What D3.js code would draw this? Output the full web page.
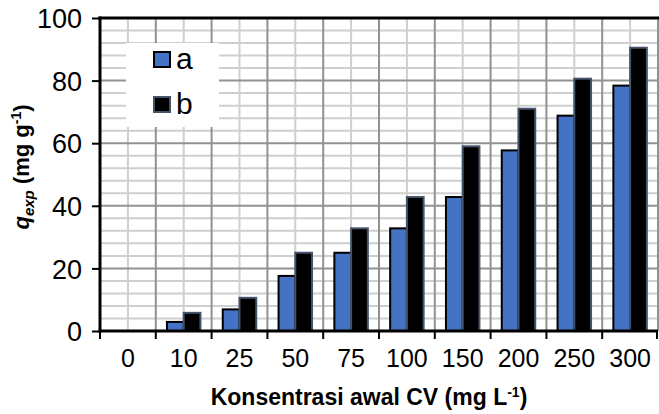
<!DOCTYPE html>
<html>
<head>
<meta charset="utf-8">
<script src="https://cdn.jsdelivr.net/npm/d3@7"></script>
<style>
  body { margin: 0; background: #fff; }
  text { font-family: "Liberation Sans", Arial, sans-serif; fill: #000; }
</style>
</head>
<body>
<script>
var width = 659,
    height = 414;

var categories = ["0", "10", "25", "50", "75", "100", "150", "200", "250", "300"];
var seriesA = [0, 2.9, 6.9, 17.6, 25, 32.8, 42.8, 57.7, 68.8, 78.4];
var seriesB = [0, 5.8, 10.6, 25, 32.8, 42.8, 59, 71, 80.6, 90.5];
var yTicks = [0, 20, 40, 60, 80, 100];
var seriesNames = ["a", "b"];

var margin = {left: 100, right: 1, top: 18, bottom: 83};

var svg = d3.select("body").append("svg")
    .attr("width", width)
    .attr("height", height);

var x0 = d3.scaleBand()
    .domain(categories)
    .range([margin.left, width - margin.right])
    .paddingInner(0)
    .paddingOuter(0);

var x1 = d3.scaleBand()
    .domain(seriesNames)
    .range([x0.bandwidth() * 0.2, x0.bandwidth() * 0.8]);

var y = d3.scaleLinear()
    .domain([0, 100])
    .range([height - margin.bottom, margin.top]);

// horizontal grid, minor every 4
var grid = svg.append("g");
d3.range(4, 100, 4).forEach(function(v) {
  if (v % 20 === 0) return;
  grid.append("line")
    .attr("x1", margin.left).attr("x2", width - margin.right)
    .attr("y1", y(v)).attr("y2", y(v))
    .attr("stroke", "#cfcfcf").attr("stroke-width", 2);
});
// vertical minor lines at category centres
categories.forEach(function(c) {
  grid.append("line")
    .attr("x1", x0(c) + x0.bandwidth() / 2).attr("x2", x0(c) + x0.bandwidth() / 2)
    .attr("y1", y(100)).attr("y2", y(0))
    .attr("stroke", "#cfcfcf").attr("stroke-width", 2);
});
// major horizontal
yTicks.forEach(function(v) {
  if (v === 0 || v === 100) return;
  grid.append("line")
    .attr("x1", margin.left).attr("x2", width - margin.right)
    .attr("y1", y(v)).attr("y2", y(v))
    .attr("stroke", "#929292").attr("stroke-width", 2);
});
// major vertical at category boundaries
categories.forEach(function(c, i) {
  if (i === 0) return;
  grid.append("line")
    .attr("x1", x0(c)).attr("x2", x0(c))
    .attr("y1", y(100)).attr("y2", y(0))
    .attr("stroke", "#929292").attr("stroke-width", 2);
});
grid.append("line")
  .attr("x1", width - margin.right).attr("x2", width - margin.right)
  .attr("y1", y(100)).attr("y2", y(0))
  .attr("stroke", "#929292").attr("stroke-width", 2);

// bars
var groups = svg.append("g").selectAll("g")
    .data(categories)
  .enter().append("g")
    .attr("transform", function(d) { return "translate(" + x0(d) + ",0)"; });

groups.each(function(c, i) {
  var g = d3.select(this);
  if (seriesA[i] > 0) {
    g.append("rect")
      .attr("x", x1("a"))
      .attr("y", y(seriesA[i]))
      .attr("width", x1.bandwidth())
      .attr("height", y(0) - y(seriesA[i]))
      .attr("fill", "#4472c4")
      .attr("stroke", "#000")
      .attr("stroke-width", 2);
  }
  if (seriesB[i] > 0) {
    g.append("rect")
      .attr("x", x1("b"))
      .attr("y", y(seriesB[i]))
      .attr("width", x1.bandwidth())
      .attr("height", y(0) - y(seriesB[i]))
      .attr("fill", "#000")
      .attr("stroke", "#44546a")
      .attr("stroke-width", 2);
  }
});

// frame: top and axes
svg.append("line")
  .attr("x1", margin.left - 1.5).attr("x2", width)
  .attr("y1", y(100)).attr("y2", y(100))
  .attr("stroke", "#000").attr("stroke-width", 3);

var yAxis = svg.append("g")
  .attr("transform", "translate(" + margin.left + ",0)")
  .call(d3.axisLeft(y).tickValues(yTicks).tickSize(8).tickPadding(10));
yAxis.select(".domain").attr("stroke-width", 3).attr("d", "M0," + (y(100) - 1.5) + "V" + (y(0) + 1.5));
yAxis.selectAll(".tick line").attr("stroke-width", 2);
yAxis.selectAll(".tick text")
  .style("font-size", "27px")
  .attr("dy", "0.36em");

var xAxis = svg.append("g")
  .attr("transform", "translate(0," + y(0) + ")")
  .call(d3.axisBottom(x0).tickSize(0).tickPadding(18));
xAxis.select(".domain").attr("stroke-width", 3).attr("d", "M" + (margin.left - 1.5) + ",0H" + (width - margin.right));
xAxis.selectAll(".tick text").style("font-size", "25px");
// tick marks at category boundaries
categories.concat([null]).forEach(function(c) {
  var xp = c === null ? width - margin.right - 1 : x0(c);
  xAxis.append("line")
    .attr("x1", xp).attr("x2", xp)
    .attr("y1", 0).attr("y2", 8)
    .attr("stroke", "#000").attr("stroke-width", 2);
});

// axis titles
svg.append("text")
  .attr("x", 369)
  .attr("y", 405)
  .attr("text-anchor", "middle")
  .style("font-size", "23px")
  .style("font-weight", "bold")
  .html('Konsentrasi awal CV (mg L<tspan dy="-8" style="font-size:14px">-1</tspan><tspan dy="8">)</tspan>');

svg.append("text")
  .attr("transform", "translate(29,167) rotate(-90)")
  .attr("text-anchor", "middle")
  .style("font-size", "22px")
  .style("font-weight", "bold")
  .html('<tspan font-style="italic">q</tspan><tspan font-style="italic" dy="5" style="font-size:15px">exp</tspan><tspan dy="-5"> (mg g</tspan><tspan dy="-8" style="font-size:14px">-1</tspan><tspan dy="8">)</tspan>');

// legend
var legend = svg.append("g");
legend.append("rect")
  .attr("x", 126).attr("y", 43)
  .attr("width", 93).attr("height", 84)
  .attr("fill", "#fff");
var legendFill = ["#4472c4", "#000"];
var legendStroke = ["#000", "#44546a"];
seriesNames.forEach(function(s, i) {
  legend.append("rect")
    .attr("x", 154).attr("y", 52 + i * 45)
    .attr("width", 16).attr("height", 15)
    .attr("fill", legendFill[i])
    .attr("stroke", legendStroke[i])
    .attr("stroke-width", 2);
  legend.append("text")
    .attr("x", 176).attr("y", 69 + i * 45)
    .style("font-size", "30px")
    .text(s);
});
</script>
</body>
</html>
